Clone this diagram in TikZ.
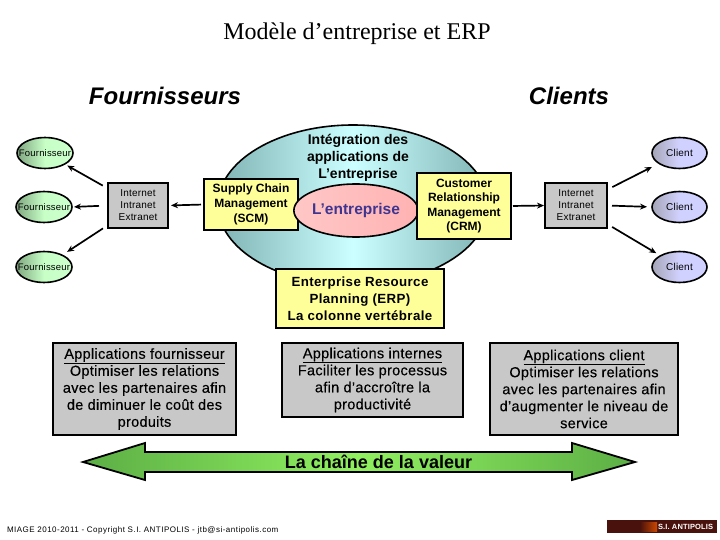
\documentclass[tikz,border=0pt]{standalone}
\usepackage{fontspec}
\setmainfont{Liberation Sans}
\newfontfamily\serifx{Liberation Serif}
\usetikzlibrary{arrows.meta,shapes.geometric}
\definecolor{yel}{HTML}{FFFF99}
\definecolor{gra}{HTML}{C8C8C8}
\definecolor{entblue}{HTML}{3F3590}
\definecolor{logob}{HTML}{4A120C}
\definecolor{arrE}{HTML}{5CAE45}
\definecolor{arrM}{HTML}{90F060}
\newcommand{\fsz}[2]{\fontsize{#1}{#2}\selectfont}
\newcommand{\tightlbl}[1]{\makebox[0pt][c]{#1}}
\tikzset{
 x=1pt,y=-1pt,
 every node/.style={inner sep=0pt,outer sep=0pt,align=center},
 bx/.style={draw=black,line width=1.8pt,rectangle,anchor=center},
 yelbox/.style={bx,fill=yel,font=\bfseries\fsz{12}{15}},
 netbox/.style={bx,fill=gra,minimum width=60pt,minimum height=45pt,font=\fsz{10}{12}\addfontfeature{LetterSpace=2}},
 appbox/.style={bx,fill=gra,font=\fsz{14.5}{17}\addfontfeature{LetterSpace=2,FakeBold=0.3}},
 fourn/.style={ellipse,draw=black,line width=1.6pt,minimum width=56pt,minimum height=31pt,left color=green!30!black!50!white,right color=green!20!white,middle color=green!22!white,font=\fsz{9.5}{10}\addfontfeature{LetterSpace=2}},
 clnt/.style={ellipse,draw=black,line width=1.6pt,minimum width=55pt,minimum height=31pt,left color=blue!20!black!35!white,right color=blue!18!white,middle color=blue!18!white,font=\fsz{10}{11}\addfontfeature{LetterSpace=2}},
 conn/.style={-{Stealth[length=7pt,width=6pt]},line width=1.7pt,black},
 ttl/.style={font=\bfseries\itshape\fsz{24}{26}}
}
\begin{document}
\begin{tikzpicture}
\useasboundingbox (0,0) rectangle (720,540);
\node[font=\serifx\fsz{24}{26}] (title) at (357,33.5) {Modèle d’entreprise et ERP};
\node[ttl] (tf) at (165,96) {Fournisseurs};
\node[ttl] (tc) at (569,96) {Clients};
\node[ellipse,minimum width=270pt,minimum height=160pt,draw=black,line width=1.6pt,left color=black!60!cyan!50!white,right color=black!60!cyan!50!white,middle color=cyan!20!white] (big) at (353,205) {};
\node[font=\bfseries\fsz{14}{17}] (integ) at (358,158) {Intégration des\\applications de\\L’entreprise};
\node[fourn] (f1) at (45,153) {\tightlbl{Fournisseur}};
\node[fourn] (f2) at (44,207) {\tightlbl{Fournisseur}};
\node[fourn] (f3) at (44,267) {\tightlbl{Fournisseur}};
\node[netbox] (nl) at (138,205.5) {Internet\\Intranet\\Extranet};
\node[netbox,minimum width=62pt] (nr) at (576,205.5) {Internet\\Intranet\\Extranet};
\node[yelbox,minimum width=94pt,minimum height=51pt] (scm) at (251,204.5) {Supply Chain\\Management\\(SCM)};
\node[ellipse,draw=black,line width=1.6pt,minimum width=106pt,minimum height=53pt,left color=red!22!white,right color=red!30!white,font=\bfseries\fsz{15.5}{17},text=entblue] (ent) at (356,210.5) {L’entreprise};
\node[yelbox,font=\bfseries\fsz{12}{14.5},minimum width=94pt,minimum height=66pt] (crm) at (464,206) {Customer\\Relationship\\Management\\(CRM)};
\node[yelbox,font=\bfseries\fsz{13.3}{17}\addfontfeature{LetterSpace=3},minimum width=168pt,minimum height=59pt] (erp) at (360,298.5) {Enterprise Resource\\Planning (ERP)\\La colonne vertébrale};
\node[clnt] (c1) at (679.5,153) {Client};
\node[clnt] (c2) at (679.5,207) {Client};
\node[clnt] (c3) at (679.5,267) {Client};
\node[appbox,minimum width=183pt,minimum height=92pt] (a1) at (144.5,389) {\underline{Applications fournisseur}\\Optimiser les relations\\avec les partenaires afin\\de diminuer le coût des\\produits};
\node[appbox,minimum width=181pt,minimum height=74pt] (a2) at (372.5,380) {\underline{Applications internes}\\Faciliter les processus\\afin d’accroître la\\productivité};
\node[appbox,minimum width=188pt,minimum height=92pt] (a3) at (584,389) {\underline{Applications client}\\Optimiser les relations\\avec les partenaires afin\\d’augmenter le niveau de\\service};
\draw[conn,shorten <=6pt,shorten >=3pt] (nl) -- (f1);
\draw[conn,shorten <=9pt,shorten >=2pt] (nl.west) -- (f2.east);
\draw[conn,shorten <=6pt,shorten >=6pt] (nl) -- (f3);
\draw[conn,shorten <=3pt,shorten >=3pt] (scm.west) -- (nl.east);
\draw[conn,shorten <=2pt,shorten >=1pt] (crm.east) -- (nr.west);
\draw[conn,shorten <=6pt,shorten >=8pt] (nr) -- (c1);
\draw[conn,shorten <=5pt,shorten >=5pt] (nr.east) -- (c2.west);
\draw[conn,shorten <=6pt,shorten >=5pt] (nr) -- (c3);
\draw[line width=1.8pt,left color=arrE,right color=arrE,middle color=arrM] (83,462) -- (145,443) -- (145,452) -- (572,452) -- (572,443) -- (635,462) -- (572,480) -- (572,472) -- (145,472) -- (145,480) -- cycle;
\node[font=\bfseries\fsz{18}{20}] (chain) at (378.5,462) {La chaîne de la valeur};
\node[anchor=west,font=\fsz{8}{9}\addfontfeature{LetterSpace=6}] (foot) at (7,530) {MIAGE 2010-2011 - Copyright S.I. ANTIPOLIS - jtb@si-antipolis.com};
\node[fill=logob,minimum width=110pt,minimum height=13pt,anchor=center] (logo) at (662,526.5) {};
\fill[left color=logob,right color=orange!70!red!80!black] (640,522) rectangle (657,531);
\node[anchor=west,text=white,font=\bfseries\fsz{7.5}{9}\addfontfeature{LetterSpace=2}] (logot) at (658,526.5) {S.I. ANTIPOLIS};
\end{tikzpicture}
\end{document}
